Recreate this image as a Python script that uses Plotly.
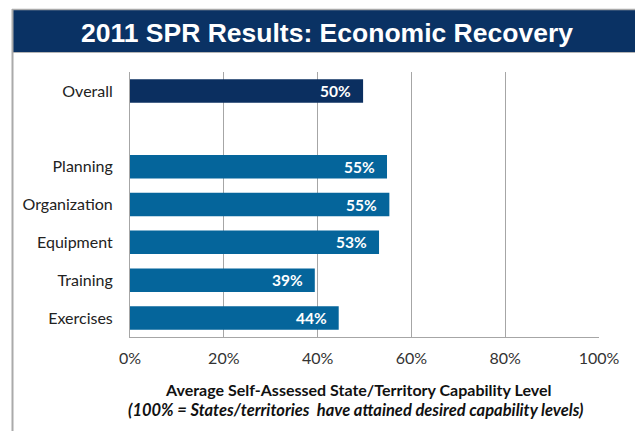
import plotly.graph_objects as go

# ---- data ----
categories = ["Overall", " ", "Planning", "Organization", "Equipment", "Training", "Exercises"]
values = [49.7, None, 54.8, 55.3, 53.1, 39.4, 44.5]
labels = ["50%", "", "55%", "55%", "53%", "39%", "44%"]
bar_colors = ["#0B2F60", "#0B2F60", "#05659B", "#05659B", "#05659B", "#05659B", "#05659B"]
x_ticks = [0, 20, 40, 60, 80, 100]
x_tick_labels = ["0%", "20%", "40%", "60%", "80%", "100%"]
title_text = "2011 SPR Results: Economic Recovery"
x_title_1 = "Average Self-Assessed State/Territory Capability Level"
x_title_2 = "(100% = States/territories  have attained desired capability levels)"

W, H = 635, 431
ML, MR, MT, MB = 130, 36, 72, 94
PW = W - ML - MR
PH = H - MT - MB


def px(x):
    return (x - ML) / PW


def py(y):
    return (H - MB - y) / PH


FONT = "Lato, Open Sans, sans-serif"

fig = go.Figure()
fig.add_trace(go.Bar(
    y=categories, x=values, orientation="h",
    marker=dict(color=bar_colors, line=dict(width=0)),
    hoverinfo="skip",
))

annotations = []
for c, v, t in zip(categories, values, labels):
    if v is None:
        continue
    annotations.append(dict(
        x=v, y=c, xref="x", yref="y", text=t, showarrow=False,
        xanchor="right", xshift=-10,
        font=dict(family=FONT, size=15.5, color="white", weight="bold"),
    ))

annotations += [
    dict(x=px(326.5), y=py(33), xref="paper", yref="paper", text=title_text, showarrow=False,
         xanchor="center", yanchor="middle",
         font=dict(family="Liberation Sans, Arial, sans-serif", size=26.5, color="white", weight="bold")),
    dict(x=px(358), y=py(389), xref="paper", yref="paper", text=x_title_1, showarrow=False,
         xanchor="center", yanchor="middle",
         font=dict(family=FONT, size=16, color="#111111", weight="bold")),
    dict(x=px(355.5), y=py(410), xref="paper", yref="paper", text=x_title_2, showarrow=False,
         xanchor="center", yanchor="middle",
         font=dict(family=FONT, size=16.5, color="#111111", weight="bold", style="italic")),
]

shapes = [
    dict(type="rect", xref="paper", yref="paper", x0=px(13), x1=px(635), y0=py(10), y1=py(52),
         fillcolor="#0A3264", line=dict(width=0), layer="below"),
    dict(type="line", xref="paper", yref="paper", x0=px(12), x1=px(635), y0=py(9.5), y1=py(9.5),
         line=dict(color="#AAAAAA", width=1.5)),
    dict(type="line", xref="paper", yref="paper", x0=px(13), x1=px(635), y0=py(52.5), y1=py(52.5),
         line=dict(color="#B5B5B5", width=1)),
    dict(type="line", xref="paper", yref="paper", x0=px(12.5), x1=px(12.5), y0=py(9), y1=py(431),
         line=dict(color="#AAAAAA", width=2)),
]

fig.update_layout(
    width=W, height=H,
    margin=dict(l=ML, r=MR, t=MT, b=MB, pad=0),
    paper_bgcolor="white", plot_bgcolor="white",
    showlegend=False,
    bargap=0.38,
    annotations=annotations,
    shapes=shapes,
    xaxis=dict(
        range=[0, 100], tickvals=x_ticks, ticktext=x_tick_labels,
        showgrid=True, gridcolor="#A6A6A6", gridwidth=1,
        showline=True, linecolor="#A6A6A6", linewidth=1,
        zeroline=False, ticks="", ticklabelstandoff=7,
        tickfont=dict(family=FONT, size=16, color="#333333"),
        fixedrange=True,
    ),
    yaxis=dict(
        categoryorder="array", categoryarray=categories, autorange="reversed",
        showgrid=False, showline=True, linecolor="#A6A6A6", linewidth=1,
        ticks="", ticklabelstandoff=13,
        tickfont=dict(family=FONT, size=16, color="#222222"),
        fixedrange=True,
    ),
)

fig.write_html("out.html", config={"displayModeBar": False},
               post_script="document.body.style.margin='0';")
